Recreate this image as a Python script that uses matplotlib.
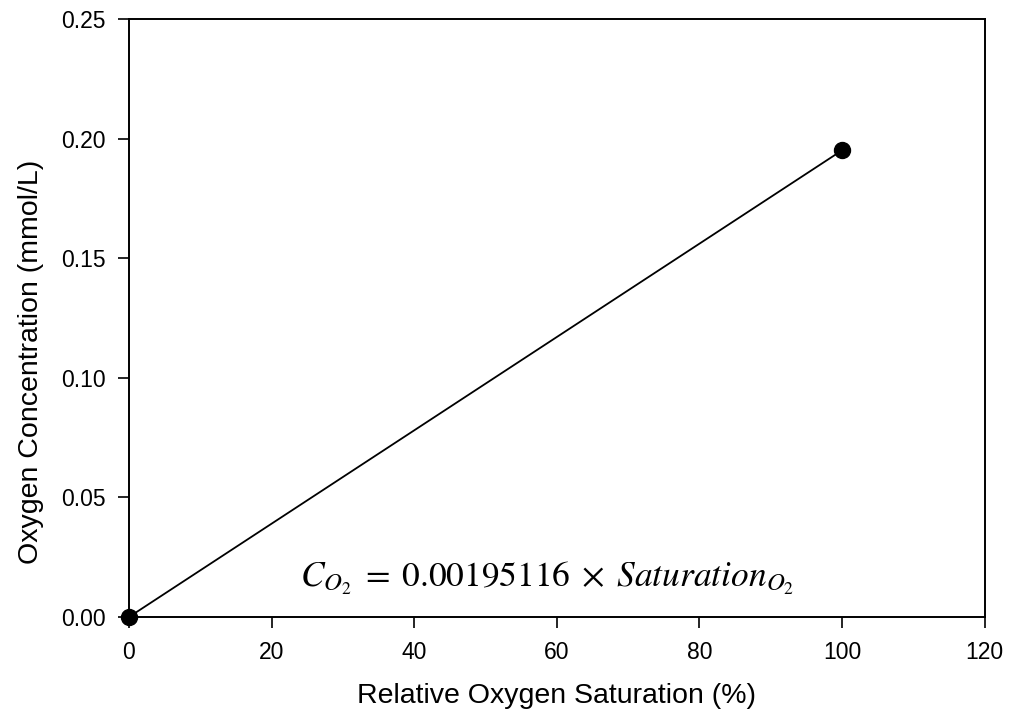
import matplotlib
matplotlib.use('Agg')
import matplotlib.pyplot as plt
from matplotlib.ticker import FormatStrFormatter

plt.rcParams['font.family'] = ['Liberation Sans', 'DejaVu Sans']
plt.rcParams['mathtext.fontset'] = 'stix'

# Calibration points: relative saturation (%) vs concentration (mmol/L)
saturation = [0, 100]
slope = 0.00195116
concentration = [s * slope for s in saturation]

fig = plt.figure(figsize=(10.1, 7.22), dpi=100)
ax = fig.add_axes([0.1277, 0.1454, 0.8473, 0.8283])

ax.plot(saturation, concentration, color='black', linewidth=1.3,
        marker='o', markersize=11.5, clip_on=False, zorder=3)

ax.set_xlim(0, 120)
ax.set_ylim(0, 0.25)
ax.set_xticks([0, 20, 40, 60, 80, 100, 120])
ax.set_yticks([0.0, 0.05, 0.10, 0.15, 0.20, 0.25])
ax.yaxis.set_major_formatter(FormatStrFormatter('%.2f'))
ax.tick_params(direction='out', length=8, width=1.2, labelsize=16.5, pad=9,
               top=False, right=False)
for sp in ax.spines.values():
    sp.set_linewidth(1.4)

ax.set_xlabel('Relative Oxygen Saturation (%)', fontsize=20.5, labelpad=14)
ax.set_ylabel('Oxygen Concentration (mmol/L)', fontsize=20.5, labelpad=12)
ax.yaxis.label.set_y(0.426)

ax.text(58.7, 0.0160, r'$C_{O_2} \;=\; 0.00195116 \;\times\; Saturation_{O_2}$',
        fontsize=25.5, ha='center', va='center')

fig.savefig('out.png', dpi=100)
